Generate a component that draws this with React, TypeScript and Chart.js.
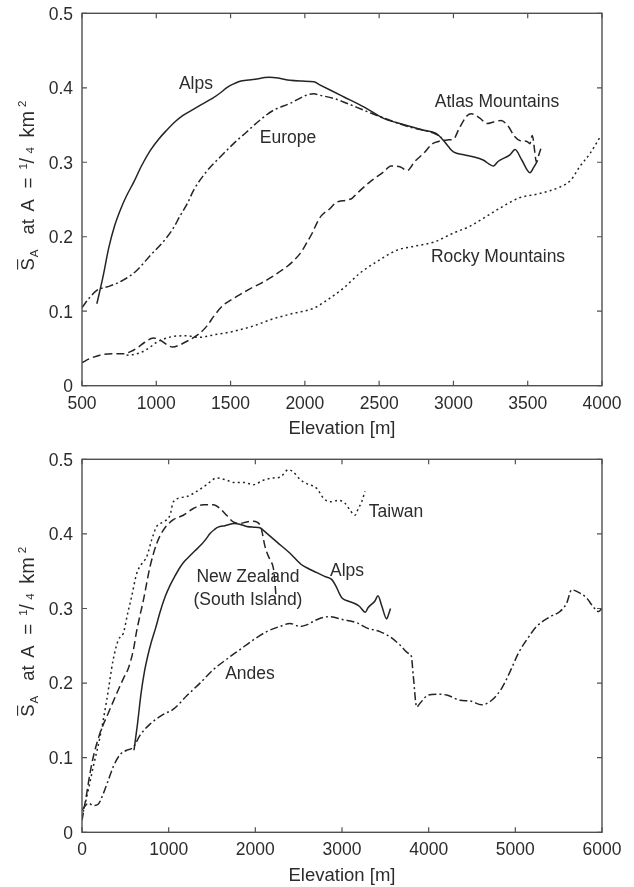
import React, { useEffect, useRef } from "react";
import { Chart, registerables } from "chart.js";

Chart.register(...registerables);

type Pt = [number, number];

// Mean local slope vs. elevation, upper panel
const alps: Pt[] = [
  [600, 0.11], [640, 0.145], [680, 0.185], [720, 0.215], [760, 0.237], [800, 0.255], [850, 0.274],
  [900, 0.295], [960, 0.316], [1020, 0.332], [1070, 0.343], [1130, 0.355], [1180, 0.363], [1240, 0.37],
  [1300, 0.377], [1380, 0.386], [1430, 0.393], [1480, 0.401], [1530, 0.406], [1570, 0.409], [1650, 0.411],
  [1760, 0.414], [1820, 0.413], [1900, 0.41], [1980, 0.409], [2060, 0.408], [2100, 0.404], [2180, 0.396],
  [2260, 0.388], [2400, 0.374], [2530, 0.359], [2620, 0.353], [2710, 0.348], [2800, 0.343], [2880, 0.339],
  [2930, 0.33], [2970, 0.32], [3000, 0.314], [3070, 0.31], [3140, 0.307], [3200, 0.303], [3270, 0.295],
  [3300, 0.301], [3380, 0.31], [3415, 0.317], [3460, 0.303], [3515, 0.286], [3540, 0.293], [3560, 0.3],
];

const europe: Pt[] = [
  [500, 0.105], [550, 0.118], [600, 0.128], [690, 0.134], [780, 0.142], [870, 0.155], [960, 0.175],
  [1050, 0.194], [1110, 0.21], [1160, 0.228], [1210, 0.245], [1250, 0.262], [1340, 0.288], [1430, 0.307],
  [1520, 0.325], [1610, 0.341], [1700, 0.357], [1790, 0.37], [1900, 0.379], [2010, 0.39], [2060, 0.392],
  [2100, 0.39], [2190, 0.386], [2260, 0.381], [2420, 0.368], [2550, 0.358], [2710, 0.347], [2880, 0.338],
  [2920, 0.333],
];

const atlas: Pt[] = [
  [500, 0.031], [560, 0.037], [620, 0.041], [700, 0.043], [780, 0.043], [830, 0.046], [880, 0.052],
  [920, 0.058], [980, 0.064], [1020, 0.062], [1050, 0.058], [1110, 0.052], [1160, 0.055], [1210, 0.06],
  [1290, 0.07], [1340, 0.08], [1390, 0.094], [1450, 0.108], [1510, 0.116], [1560, 0.122], [1630, 0.13],
  [1700, 0.137], [1770, 0.145], [1830, 0.153], [1880, 0.16], [1920, 0.167], [1970, 0.178], [2010, 0.191],
  [2050, 0.205], [2080, 0.218], [2110, 0.228], [2170, 0.238], [2210, 0.246], [2280, 0.249], [2320, 0.252],
  [2350, 0.258], [2440, 0.274], [2530, 0.287], [2580, 0.295], [2640, 0.294], [2690, 0.289], [2740, 0.301],
  [2800, 0.312], [2860, 0.325], [2900, 0.328], [2960, 0.33], [3000, 0.331], [3040, 0.346], [3090, 0.362],
  [3120, 0.365], [3180, 0.359], [3225, 0.352], [3270, 0.354], [3320, 0.356], [3370, 0.348], [3410, 0.335],
  [3450, 0.329], [3495, 0.328], [3515, 0.325], [3530, 0.336], [3560, 0.3], [3575, 0.31], [3595, 0.322],
];

const rocky: Pt[] = [
  [800, 0.041], [850, 0.042], [890, 0.044], [930, 0.048], [960, 0.052], [1000, 0.058], [1030, 0.061],
  [1110, 0.066], [1200, 0.067], [1290, 0.065], [1380, 0.068], [1520, 0.073], [1650, 0.08], [1790, 0.09],
  [1920, 0.097], [2060, 0.104], [2150, 0.115], [2260, 0.131], [2370, 0.151], [2480, 0.166], [2620, 0.182],
  [2730, 0.187], [2870, 0.193], [3000, 0.205], [3110, 0.214], [3220, 0.227], [3310, 0.238], [3440, 0.252],
  [3580, 0.258], [3720, 0.267], [3790, 0.276], [3850, 0.294], [3920, 0.312], [3990, 0.335],
];

// Lower panel
const taiwan: Pt[] = [
  [0, 0.021], [40, 0.04], [73, 0.057], [130, 0.088], [208, 0.128], [285, 0.177], [361, 0.232], [420, 0.258],
  [477, 0.267], [530, 0.295], [573, 0.316], [631, 0.347], [690, 0.36], [746, 0.369], [804, 0.392],
  [862, 0.41], [938, 0.416], [1015, 0.425], [1054, 0.443], [1208, 0.45], [1323, 0.457], [1438, 0.466],
  [1554, 0.475], [1669, 0.472], [1746, 0.469], [1862, 0.469], [1977, 0.466], [2092, 0.472], [2208, 0.475],
  [2285, 0.476], [2381, 0.486], [2438, 0.483], [2515, 0.473], [2600, 0.467], [2708, 0.461], [2785, 0.448],
  [2862, 0.443], [2958, 0.445], [3035, 0.441], [3092, 0.432], [3150, 0.425], [3188, 0.434], [3227, 0.443],
  [3265, 0.457],
];

const newZealand: Pt[] = [
  [0, 0.016], [54, 0.052], [92, 0.079], [130, 0.101], [208, 0.133], [304, 0.16], [400, 0.186], [477, 0.206],
  [535, 0.22], [592, 0.244], [631, 0.27], [708, 0.311], [785, 0.356], [862, 0.387], [938, 0.405],
  [1054, 0.419], [1169, 0.425], [1285, 0.434], [1400, 0.439], [1515, 0.439], [1592, 0.434], [1669, 0.425],
  [1746, 0.416], [1823, 0.414], [1900, 0.416], [1977, 0.417], [2054, 0.412], [2073, 0.405], [2112, 0.383],
  [2169, 0.365], [2208, 0.354], [2227, 0.334], [2238, 0.316],
];

const andes: Pt[] = [
  [0, 0.03], [40, 0.036], [73, 0.039], [130, 0.036], [189, 0.038], [246, 0.052], [304, 0.07], [361, 0.088],
  [438, 0.104], [515, 0.11], [592, 0.114], [669, 0.13], [785, 0.145], [938, 0.158], [1054, 0.165],
  [1208, 0.183], [1362, 0.2], [1515, 0.218], [1669, 0.232], [1823, 0.245], [1977, 0.258], [2131, 0.269],
  [2285, 0.276], [2400, 0.28], [2515, 0.276], [2592, 0.278], [2708, 0.285], [2842, 0.289], [3015, 0.285],
  [3169, 0.281], [3285, 0.274], [3438, 0.269], [3554, 0.262], [3669, 0.251], [3765, 0.24], [3800, 0.236],
  [3823, 0.209], [3862, 0.168], [3900, 0.173], [3996, 0.184], [4092, 0.185], [4208, 0.184], [4362, 0.177],
  [4477, 0.176], [4612, 0.171], [4727, 0.177], [4842, 0.193], [4938, 0.215], [5035, 0.24], [5131, 0.258],
  [5246, 0.276], [5400, 0.289], [5515, 0.296], [5592, 0.307], [5650, 0.325], [5708, 0.323], [5823, 0.314],
  [5900, 0.302], [5958, 0.296], [6000, 0.3],
];

const topXTicks = [500, 1000, 1500, 2000, 2500, 3000, 3500, 4000];
const bottomXTicks = [0, 1000, 2000, 3000, 4000, 5000, 6000];
const yTicks = [0, 0.1, 0.2, 0.3, 0.4, 0.5];
const yTickLabels = ["0", "0.1", "0.2", "0.3", "0.4", "0.5"];
const xTitle = "Elevation [m]";

type Label = { text: string; x: number; y: number };
const topLabels: Label[] = [
  { text: "Alps", x: 1267, y: 0.405 },
  { text: "Europe", x: 1887, y: 0.333 },
  { text: "Atlas Mountains", x: 3293, y: 0.381 },
  { text: "Rocky Mountains", x: 3300, y: 0.173 },
];
const bottomLabels: Label[] = [
  { text: "Taiwan", x: 3623, y: 0.429 },
  { text: "New Zealand", x: 1915, y: 0.342 },
  { text: "(South Island)", x: 1915, y: 0.311 },
  { text: "Alps", x: 3058, y: 0.35 },
  { text: "Andes", x: 1938, y: 0.212 },
];

const FONT = '"Liberation Sans", Arial, Helvetica, sans-serif';
const INK = "#2c2c2c";
const LINE = "#242424";
const FRAME = "#505050";

const SOLID: number[] = [];
const DASHED = [8, 4];
const DOTTED = [2, 3.2];
const DASHDOT = [8, 3, 2, 3];

function series(data: Pt[], dash: number[]) {
  return {
    data: data.map(([x, y]) => ({ x, y })),
    borderColor: LINE,
    borderWidth: 1.5,
    borderDash: dash,
    pointRadius: 0,
    fill: false,
    tension: 0,
    cubicInterpolationMode: "monotone" as const,
  };
}

// Y-axis title: S-bar with subscript A, "at A = 1/4 km^2", set piece by piece
// along the rotated baseline (offsets measured from the lower end).
function drawYTitle(ctx: CanvasRenderingContext2D, baseX: number, startY: number) {
  const F = 18.5;
  const s = 11.5;
  ctx.save();
  ctx.translate(baseX, startY);
  ctx.rotate(-Math.PI / 2);
  ctx.fillStyle = INK;
  ctx.strokeStyle = INK;
  ctx.textBaseline = "alphabetic";
  ctx.textAlign = "left";
  const put = (t: string, size: number, at: number, dy: number) => {
    ctx.font = `${size}px ${FONT}`;
    ctx.fillText(t, at, dy);
    return ctx.measureText(t).width;
  };
  const sw = put("S", F, 0, 0);
  ctx.lineWidth = 1.1;
  ctx.beginPath();
  ctx.moveTo(1, -F * 0.86);
  ctx.lineTo(sw - 1, -F * 0.86);
  ctx.stroke();
  put("A", s, sw + 1, F * 0.22);
  put("at", F, 36, 0);
  put("A", F, 59, 0);
  put("=", F, 82, 0);
  put("1", s, 101, -F * 0.36);
  put("/", F * 1.05, 107, 0);
  put("4", s, 117, F * 0.04);
  put("km", F * 1.08, 133, 0);
  put("2", s, 163.5, -F * 0.42);
  ctx.restore();
}

const axesPlugin = {
  id: "axesFrame",
  beforeDatasetsDraw(chart: any, _args: any, opts: any) {
    const { ctx, scales } = chart;
    ctx.save();
    ctx.fillStyle = INK;
    ctx.font = `17.5px ${FONT}`;
    ctx.textAlign = "center";
    ctx.textBaseline = "middle";
    (opts.labels as Label[]).forEach((l) => {
      ctx.fillText(l.text, scales.x.getPixelForValue(l.x), scales.y.getPixelForValue(l.y));
    });
    ctx.restore();
  },
  afterDraw(chart: any, _args: any, opts: any) {
    const { ctx, chartArea: a, scales } = chart;
    const L = 5;
    ctx.save();
    ctx.strokeStyle = FRAME;
    ctx.lineWidth = 1.4;
    ctx.strokeRect(a.left, a.top, a.right - a.left, a.bottom - a.top);
    ctx.lineWidth = 1.2;
    ctx.beginPath();
    (opts.xTicks as number[]).forEach((v) => {
      const px = scales.x.getPixelForValue(v);
      ctx.moveTo(px, a.bottom);
      ctx.lineTo(px, a.bottom - L);
      ctx.moveTo(px, a.top);
      ctx.lineTo(px, a.top + L);
    });
    yTicks.forEach((v) => {
      const py = scales.y.getPixelForValue(v);
      ctx.moveTo(a.left, py);
      ctx.lineTo(a.left + L, py);
      ctx.moveTo(a.right, py);
      ctx.lineTo(a.right - L, py);
    });
    ctx.stroke();

    ctx.fillStyle = INK;
    ctx.font = `17.5px ${FONT}`;
    ctx.textAlign = "center";
    ctx.textBaseline = "alphabetic";
    (opts.xTicks as number[]).forEach((v) => {
      ctx.fillText(String(v), scales.x.getPixelForValue(v), a.bottom + 23);
    });
    ctx.textAlign = "right";
    ctx.textBaseline = "middle";
    yTicks.forEach((v, i) => {
      ctx.fillText(yTickLabels[i], a.left - 9, scales.y.getPixelForValue(v) + 1.5);
    });
    ctx.font = `18.5px ${FONT}`;
    ctx.textAlign = "center";
    ctx.textBaseline = "alphabetic";
    ctx.fillText(xTitle, (a.left + a.right) / 2, a.bottom + 48.5);
    ctx.restore();
    drawYTitle(ctx, 33.5, (a.top + a.bottom) / 2 + 71);
  },
};

function makeChart(
  canvas: HTMLCanvasElement,
  datasets: any[],
  xMin: number,
  xMax: number,
  padding: { left: number; right: number; top: number; bottom: number },
  xTicks: number[],
  labels: Label[]
) {
  return new Chart(canvas, {
    type: "line",
    data: { datasets },
    options: {
      animation: false,
      responsive: false,
      devicePixelRatio: 1,
      layout: { padding },
      scales: {
        x: { type: "linear", min: xMin, max: xMax, display: false },
        y: { type: "linear", min: 0, max: 0.5, display: false },
      },
      plugins: {
        legend: { display: false },
        tooltip: { enabled: false },
        axesFrame: { xTicks, labels },
      } as any,
    },
    plugins: [axesPlugin],
  });
}

export default function App() {
  const topRef = useRef<HTMLCanvasElement>(null);
  const bottomRef = useRef<HTMLCanvasElement>(null);

  useEffect(() => {
    const top = makeChart(
      topRef.current!,
      [series(rocky, DOTTED), series(atlas, DASHED), series(europe, DASHDOT), series(alps, SOLID)],
      500,
      4000,
      { left: 82, right: 32, top: 13.3, bottom: 54.3 },
      topXTicks,
      topLabels
    );
    const bottom = makeChart(
      bottomRef.current!,
      [series(andes, DASHDOT), series(taiwan, DOTTED), series(newZealand, DASHED), series(alps, SOLID)],
      0,
      6000,
      { left: 82, right: 32, top: 19.3, bottom: 54.7 },
      bottomXTicks,
      bottomLabels
    );
    return () => {
      top.destroy();
      bottom.destroy();
    };
  }, []);

  return (
    <div style={{ position: "absolute", left: 0, top: 0, width: 634, height: 887, background: "#fff" }}>
      <canvas ref={topRef} width={634} height={440} style={{ position: "absolute", left: 0, top: 0 }} />
      <canvas ref={bottomRef} width={634} height={447} style={{ position: "absolute", left: 0, top: 440 }} />
    </div>
  );
}
